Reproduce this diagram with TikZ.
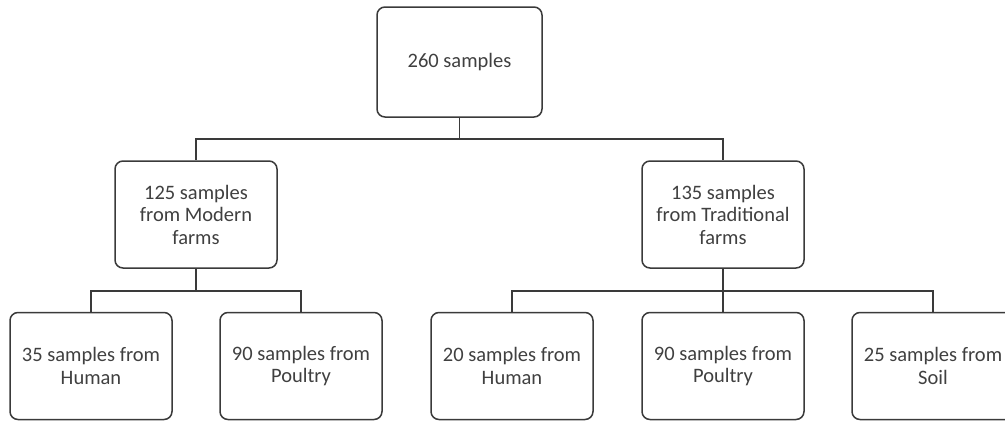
\documentclass[tikz,border=0pt]{standalone}
\usepackage{fontspec}
\setmainfont{Carlito}
\usepackage{xcolor}
\usetikzlibrary{positioning}
\definecolor{edge}{HTML}{3A3A3A}
\definecolor{ink}{HTML}{404040}

\begin{document}
\begin{tikzpicture}[x=1pt,y=-1pt,
          every node/.style={font=\fontsize{20.5}{22.5}\selectfont,text=ink},
          samplebox/.style={draw=edge,line width=1.5pt,rounded corners=8pt,fill=white,
                            minimum width=162pt,minimum height=107pt,align=center,inner sep=2pt},
          conn/.style={draw=edge,line width=1.5pt}
      ]
        \useasboundingbox (0,0) rectangle (1005,421);

        \node[samplebox,minimum width=165pt,minimum height=110pt] (root) at (459.5,62) {260 samples};

        \node[samplebox] (modern) at (196,214.5) {125 samples\\from Modern\\farms};
        \node[samplebox] (trad) at (723,214.5) {135 samples\\from Traditional\\farms};

        \node[samplebox] (mhuman) at (91,366) {35 samples from\\Human};
        \node[samplebox] (mpoultry) at (301,366) {90 samples from\\Poultry};
        \node[samplebox] (thuman) at (512,366) {20 samples from\\Human};
        \node[samplebox] (tpoultry) at (723,366) {90 samples from\\Poultry};
        \node[samplebox] (tsoil) at (933,366) {25 samples from\\Soil};

        \draw[conn] (root.south) -- ++(0,21) -| (modern.north);
        \draw[conn] (root.south) -- ++(0,21) -| (trad.north);
        \draw[conn] (modern.south) -- ++(0,22) -| (mhuman.north);
        \draw[conn] (modern.south) -- ++(0,22) -| (mpoultry.north);
        \draw[conn] (trad.south) -- ++(0,22) -| (thuman.north);
        \draw[conn] (trad.south) -- (tpoultry.north);
        \draw[conn] (trad.south) -- ++(0,22) -| (tsoil.north);
      \end{tikzpicture}
\end{document}
